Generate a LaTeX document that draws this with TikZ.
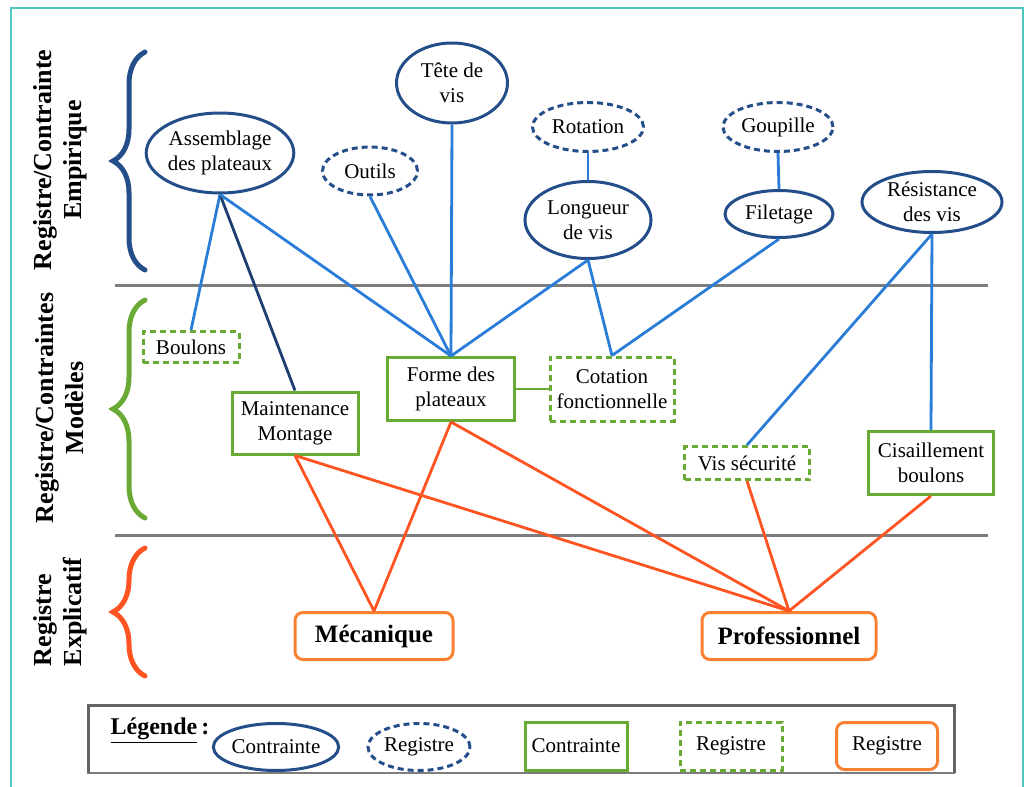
\documentclass[tikz,border=0pt]{standalone}
\usepackage{fontspec}
\setmainfont{Liberation Serif}
\usepackage{tikz}
\usetikzlibrary{shapes.geometric, decorations.pathreplacing}
\definecolor{empblue}{RGB}{36, 78, 138}
\definecolor{linkblue}{RGB}{42, 125, 214}
\definecolor{navy}{RGB}{28, 62, 112}
\definecolor{modgreen}{RGB}{104, 170, 52}
\definecolor{expred}{RGB}{255, 84, 34}
\definecolor{boxorange}{RGB}{248, 128, 48}
\definecolor{framecol}{RGB}{78, 201, 193}
\definecolor{sepgray}{RGB}{125, 125, 125}

\tikzset{
  ctr/.style={ellipse, draw=empblue, line width=1.5pt, inner sep=0pt, align=center},
  reg/.style={ctr, dash pattern=on 3pt off 2pt},
  modbox/.style={rectangle, draw=modgreen, line width=1.5pt, inner sep=0pt, align=center},
  modreg/.style={modbox, dash pattern=on 3pt off 2pt},
  explbox/.style={rectangle, rounded corners=4pt, draw=boxorange, line width=1.5pt, inner sep=0pt},
  sidelab/.style={rotate=90, align=center, font=\fontsize{13}{15}\selectfont\bfseries},
  link/.style={linkblue, line width=1.4pt},
  redlink/.style={expred, line width=1.4pt},
  bracket/.style={line width=2.5pt, line cap=round, decorate, decoration={brace, amplitude=16pt}}
}

\begin{document}
\begin{tikzpicture}[x=0.5pt, y=-0.5pt, font=\fontsize{10.5}{12.5}\selectfont]
  \useasboundingbox (0, 0) rectangle (1030, 787);
  \draw[framecol, line width=1pt] (11, 800) -- (11, 8) -- (1023, 8) -- (1023, 800);

  % registres
  \draw[sepgray, line width=1.5pt] (115, 285) -- (988, 285);
  \draw[sepgray, line width=1.5pt] (115, 535) -- (988, 535);

  \draw[bracket, empblue] (145, 270) -- (145, 52);
  \draw[bracket, modgreen] (145, 518) -- (145, 300);
  \draw[bracket, expred] (145, 676) -- (145, 548);

  \node[sidelab] (emplab) at (60, 160) {Registre/Contrainte\\Empirique};
  \node[sidelab] (modlab) at (60, 408) {Registre/Contraintes\\Modèles};
  \node[sidelab, align=left] (explab) at (60, 612) {Registre\\Explicatif};

  % empirique
  \node[ctr, minimum width=71.5pt, minimum height=40pt] (assemblage) at (220, 153) {Assemblage\\des plateaux};
  \node[reg, minimum width=47.5pt, minimum height=24pt] (outils) at (370, 171) {Outils};
  \node[ctr, minimum width=55.5pt, minimum height=40pt] (tete) at (452, 83) {Tête de\\vis};
  \node[reg, minimum width=55.5pt, minimum height=24.5pt] (rotation) at (588, 127) {Rotation};
  \node[ctr, minimum width=63pt, minimum height=38.5pt] (longueur) at (588, 220) {Longueur\\de vis};
  \node[reg, minimum width=55pt, minimum height=24.5pt] (goupille) at (778, 127) {Goupille};
  \node[ctr, minimum width=54pt, minimum height=23.5pt] (filetage) at (779, 214) {Filetage};
  \node[ctr, minimum width=70pt, minimum height=30.5pt] (resistance) at (932, 202) {Résistance\\des vis};

  % modeles
  \node[modreg, minimum width=48pt, minimum height=15.5pt] (boulons) at (191, 347) {Boulons};
  \node[modbox, minimum width=63pt, minimum height=31pt] (maintenance) at (295, 423) {Maintenance\\Montage};
  \node[modbox, minimum width=63.5pt, minimum height=31.5pt] (forme) at (451, 389) {Forme des\\plateaux};
  \node[modreg, minimum width=62pt, minimum height=32pt] (cotation) at (612, 389) {Cotation\\fonctionnelle};
  \node[modreg, minimum width=62.5pt, minimum height=16.5pt] (vissecu) at (747, 463) {Vis sécurité};
  \node[modbox, minimum width=62.5pt, minimum height=31.5pt] (cisaillement) at (931, 463) {Cisaillement\\boulons};

  % explicatif
  \node[explbox, minimum width=79pt, minimum height=23.5pt, font=\fontsize{12.5}{15}\selectfont\bfseries] (meca) at (374, 636) {Mécanique};
  \node[explbox, minimum width=87pt, minimum height=23.5pt, font=\fontsize{12.5}{15}\selectfont\bfseries] (pro) at (789, 636) {Professionnel};

  \draw[link] (assemblage.south) -- (boulons.north);
  \draw[navy, line width=1.4pt] (assemblage.south) -- (maintenance.north);
  \draw[link] (assemblage.south) -- (forme.north);
  \draw[link] (outils.south) -- (forme.north);
  \draw[link] (tete.south) -- (forme.north);
  \draw[link] (longueur.south) -- (forme.north);
  \draw[link] (longueur.south) -- (cotation.north);
  \draw[link] (filetage.south) -- (cotation.north);
  \draw[link] (rotation.south) -- (longueur.north);
  \draw[link] (goupille.south) -- (filetage.north);
  \draw[link] (resistance.south) -- (vissecu.north);
  \draw[link] (resistance.south) -- (cisaillement.north);
  \draw[modgreen, line width=1.4pt] (forme.east) -- (cotation.west);

  \draw[redlink] (maintenance.south) -- (meca.north);
  \draw[redlink] (maintenance.south) -- (pro.north);
  \draw[redlink] (forme.south) -- (meca.north);
  \draw[redlink] (forme.south) -- (pro.north);
  \draw[redlink] (vissecu.south) -- (pro.north);
  \draw[redlink] (cisaillement.south) -- (pro.north);

  % legende
  \draw[sepgray, line width=0.8pt] (88, 705) rectangle (954, 773);
  \draw[sepgray!80!black, line width=1.5pt] (88, 773) -- (88, 705) -- (954, 705) -- (954, 773);
  \node[font=\fontsize{12}{14}\selectfont\bfseries] (legtitle) at (160, 731) {\underline{Légende}\,:};
  \node[ctr, minimum width=51.5pt, minimum height=23.5pt] (legctr) at (276, 747) {Contrainte};
  \node[reg, minimum width=51pt, minimum height=23.5pt] (legreg) at (419, 747) {Registre};
  \node[modbox, minimum width=51pt, minimum height=24pt] (legmod) at (576, 746) {Contrainte};
  \node[modreg, minimum width=51pt, minimum height=24pt] (legmodreg) at (731, 746) {Registre};
  \node[explbox, minimum width=50.5pt, minimum height=23.5pt] (legexpl) at (887, 746) {Registre};
\end{tikzpicture}
\end{document}
